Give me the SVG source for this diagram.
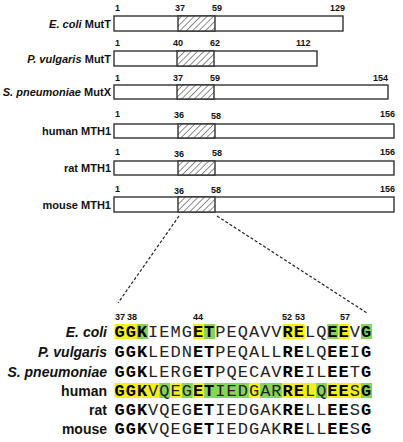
<svg xmlns="http://www.w3.org/2000/svg" width="403" height="442" viewBox="0 0 403 442">
<style>
.lbl{font-family:"Liberation Sans",Arial,sans-serif;font-weight:bold;font-size:11px;fill:#111}
.it{font-style:italic}
.num{font-family:"Liberation Sans",Arial,sans-serif;font-weight:bold;font-size:9px;fill:#111}
.box{fill:#fff;stroke:#333;stroke-width:1.4}
.hat{fill:url(#hatch);stroke:#333;stroke-width:1.4}
.slbl{font-family:"Liberation Sans",Arial,sans-serif;font-weight:bold;font-size:14px;fill:#111}
.seq{font-family:"Liberation Mono","Courier New",monospace;font-size:17px;letter-spacing:1px;fill:#222}
.b{font-weight:bold;fill:#000}
.y{fill:#f5ee1c}
.g{fill:#86d45a}
.dash{stroke:#222;stroke-width:1.2;stroke-dasharray:3 2;fill:none}
</style>
<defs>
<pattern id="hatch" patternUnits="userSpaceOnUse" width="4.5" height="4.5" patternTransform="rotate(45)">
<rect width="4.5" height="4.5" fill="#fff"/>
<line x1="0" y1="0" x2="0" y2="4.5" stroke="#333" stroke-width="1.1"/>
</pattern>
</defs>

<g id="ecoli-mutt">
<text class="lbl it" x="81.5" y="28" text-anchor="end">E. coli</text>
<text class="lbl" x="111" y="28" text-anchor="end">MutT</text>
<rect class="box" x="114" y="16" width="229" height="15"/>
<rect class="hat" x="178" y="16" width="37" height="15"/>
<text class="num" x="115" y="11">1</text>
<text class="num" x="175" y="11">37</text>
<text class="num" x="212" y="11">59</text>
<text class="num" x="330" y="11">129</text>
</g>

<g id="pvulgaris-mutt">
<text class="lbl it" x="81.5" y="63" text-anchor="end">P. vulgaris</text>
<text class="lbl" x="111" y="63" text-anchor="end">MutT</text>
<rect class="box" x="114" y="51" width="203" height="15"/>
<rect class="hat" x="177" y="51" width="37" height="15"/>
<text class="num" x="115" y="46">1</text>
<text class="num" x="173" y="46">40</text>
<text class="num" x="210" y="46">62</text>
<text class="num" x="296" y="46">112</text>
</g>

<g id="spneumoniae-mutx">
<text class="lbl it" x="81" y="96" text-anchor="end">S. pneumoniae</text>
<text class="lbl" x="111" y="96" text-anchor="end">MutX</text>
<rect class="box" x="114" y="85" width="274" height="14"/>
<rect class="hat" x="177" y="85" width="37" height="14"/>
<text class="num" x="115" y="81">1</text>
<text class="num" x="173" y="81">37</text>
<text class="num" x="210" y="81">59</text>
<text class="num" x="373" y="81">154</text>
</g>

<g id="human-mth1">
<text class="lbl" x="111" y="135" text-anchor="end">human MTH1</text>
<rect class="box" x="114" y="124" width="280" height="14"/>
<rect class="hat" x="178" y="124" width="37" height="14"/>
<text class="num" x="115" y="117">1</text>
<text class="num" x="174" y="118">36</text>
<text class="num" x="211" y="119">58</text>
<text class="num" x="380" y="117">156</text>
</g>

<g id="rat-mth1">
<text class="lbl" x="111" y="172" text-anchor="end">rat MTH1</text>
<rect class="box" x="114" y="161" width="280" height="14"/>
<rect class="hat" x="178" y="161" width="37" height="14"/>
<text class="num" x="115" y="155">1</text>
<text class="num" x="174" y="157">36</text>
<text class="num" x="212" y="156">58</text>
<text class="num" x="380" y="155">156</text>
</g>

<g id="mouse-mth1">
<text class="lbl" x="111" y="209" text-anchor="end">mouse MTH1</text>
<rect class="box" x="114" y="197" width="280" height="15"/>
<rect class="hat" x="178" y="197" width="37" height="15"/>
<text class="num" x="115" y="192">1</text>
<text class="num" x="174" y="194">36</text>
<text class="num" x="211" y="193">58</text>
<text class="num" x="380" y="192">156</text>
</g>

<g id="connectors">
<line class="dash" x1="179" y1="216" x2="118" y2="303"/>
<line class="dash" x1="217" y1="216" x2="367" y2="313"/>
</g>

<g id="residue-numbers">
<text class="num" x="115" y="320">37</text>
<text class="num" x="127" y="320">38</text>
<text class="num" x="193" y="320">44</text>
<text class="num" x="282" y="320">52</text>
<text class="num" x="295" y="320">53</text>
<text class="num" x="340" y="320">57</text>
</g>

<g id="seq-ecoli">
<g>
<rect class="y" x="114.5" y="324" width="11.2" height="15"/>
<rect class="y" x="125.7" y="324" width="11.2" height="15"/>
<rect class="g" x="136.9" y="324" width="11.2" height="15"/>
<rect class="y" x="192.9" y="324" width="11.2" height="15"/>
<rect class="g" x="204.1" y="324" width="11.2" height="15"/>
<rect class="y" x="282.5" y="324" width="11.2" height="15"/>
<rect class="y" x="293.7" y="324" width="11.2" height="15"/>
<rect class="g" x="327.3" y="324" width="11.2" height="15"/>
<rect class="y" x="338.5" y="324" width="11.2" height="15"/>
<rect class="g" x="360.9" y="324" width="11.2" height="15"/>
</g>
<text class="slbl it" x="107" y="337" text-anchor="end">E. coli</text>
<text class="seq" x="114.5" y="337"><tspan class="b">GGK</tspan>IEMG<tspan class="b">ET</tspan>PEQAVV<tspan class="b">RE</tspan>LQ<tspan class="b">EE</tspan>V<tspan class="b">G</tspan></text>
</g>

<g id="seq-pvulgaris">
<text class="slbl it" x="107" y="357" text-anchor="end">P. vulgaris</text>
<text class="seq" x="114.5" y="357"><tspan class="b">GGK</tspan>LEDN<tspan class="b">ET</tspan>PEQALL<tspan class="b">RE</tspan>LQ<tspan class="b">EE</tspan>I<tspan class="b">G</tspan></text>
</g>

<g id="seq-spneumoniae">
<text class="slbl it" x="107" y="377" text-anchor="end">S. pneumoniae</text>
<text class="seq" x="114.5" y="377"><tspan class="b">GGK</tspan>LERG<tspan class="b">ET</tspan>PQECAV<tspan class="b">RE</tspan>IL<tspan class="b">EE</tspan>T<tspan class="b">G</tspan></text>
</g>

<g id="seq-human">
<g>
<rect class="y" x="114.5" y="383" width="44.8" height="15"/>
<rect class="g" x="159.3" y="383" width="11.2" height="15"/>
<rect class="y" x="170.5" y="383" width="11.2" height="15"/>
<rect class="g" x="181.7" y="383" width="11.2" height="15"/>
<rect class="y" x="192.9" y="383" width="11.2" height="15"/>
<rect class="g" x="204.1" y="383" width="44.8" height="15"/>
<rect class="y" x="248.9" y="383" width="11.2" height="15"/>
<rect class="g" x="260.1" y="383" width="22.4" height="15"/>
<rect class="y" x="282.5" y="383" width="33.6" height="15"/>
<rect class="g" x="316.1" y="383" width="11.2" height="15"/>
<rect class="y" x="327.3" y="383" width="33.6" height="15"/>
<rect class="g" x="360.9" y="383" width="11.2" height="15"/>
</g>
<text class="slbl" x="107" y="396" text-anchor="end">human</text>
<text class="seq" x="114.5" y="396"><tspan class="b">GGK</tspan>VQEG<tspan class="b">ET</tspan>IEDGAR<tspan class="b">RE</tspan>LQ<tspan class="b">EE</tspan>S<tspan class="b">G</tspan></text>
</g>

<g id="seq-rat">
<text class="slbl" x="107" y="415" text-anchor="end">rat</text>
<text class="seq" x="114.5" y="415"><tspan class="b">GGK</tspan>VQEG<tspan class="b">ET</tspan>IEDGAK<tspan class="b">RE</tspan>LL<tspan class="b">EE</tspan>S<tspan class="b">G</tspan></text>
</g>

<g id="seq-mouse">
<text class="slbl" x="107" y="434" text-anchor="end">mouse</text>
<text class="seq" x="114.5" y="434"><tspan class="b">GGK</tspan>VQEG<tspan class="b">ET</tspan>IEDGAK<tspan class="b">RE</tspan>LL<tspan class="b">EE</tspan>S<tspan class="b">G</tspan></text>
</g>
</svg>
